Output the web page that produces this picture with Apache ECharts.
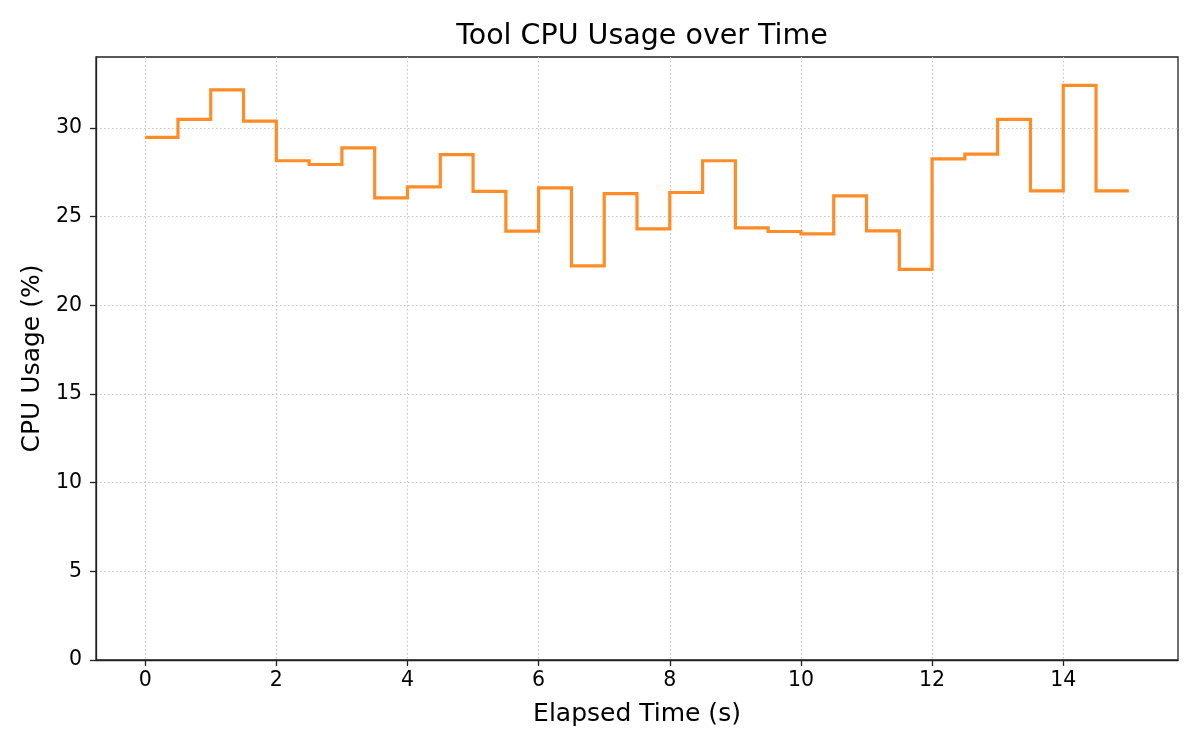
<!DOCTYPE html>
<html>
<head>
<meta charset="utf-8">
<script src="https://cdn.jsdelivr.net/npm/echarts@6/dist/echarts.min.js"></script>
<style>
html,body{margin:0;padding:0;background:#fff;}
#chart{width:1200px;height:750px;}
</style>
</head>
<body>
<div id="chart"></div>
<script>
var times = [0,0.5,1,1.5,2,2.5,3,3.5,4,4.5,5,5.5,6,6.5,7,7.5,8,8.5,9,9.5,10,10.5,11,11.5,12,12.5,13,13.5,14,14.5,15];
var cpuUsage = [29.47,30.48,32.15,30.38,28.15,27.94,28.88,26.06,26.68,28.5,26.42,24.18,26.62,22.22,26.3,24.31,26.36,28.15,24.37,24.16,24.03,26.17,24.2,22.03,28.26,28.52,30.48,26.45,32.4,26.45,26.45];
var xTicks = [0,2,4,6,8,10,12,14];
var yTicks = [0,5,10,15,20,25,30];

var seriesData = times.map(function(t, i){ return [t, cpuUsage[i]]; });
var font = 'DejaVu Sans';
var chart = echarts.init(document.getElementById('chart'), null, {renderer:'canvas'});
chart.setOption({
  animation: false,
  backgroundColor: '#ffffff',
  title: {
    text: 'Tool CPU Usage over Time',
    left: 637,
    top: 17,
    textAlign: 'center',
    textStyle: {fontFamily: font, fontSize: 28.5, fontWeight: 'normal', color: '#000'}
  },
  grid: {
    left: 96, right: 22, top: 57, bottom: 90,
    show: true, borderColor: '#222', borderWidth: 1.3, backgroundColor: 'transparent'
  },
  xAxis: {
    type: 'value',
    min: -0.75, max: 15.75,
    name: 'Elapsed Time (s)',
    nameLocation: 'middle',
    nameGap: 42,
    nameTextStyle: {fontFamily: font, fontSize: 25, color: '#000'},
    axisLine: {show: true, onZero: false, lineStyle: {color: '#222', width: 1.3}},
    axisTick: {show: true, length: 6, inside: false, customValues: xTicks, lineStyle: {color: '#222', width: 1.3}},
    axisLabel: {fontFamily: font, fontSize: 20.5, color: '#000', margin: 10, customValues: xTicks},
    splitLine: {show: true, lineStyle: {color: '#c4c4c4', width: 1.1, type: [1.5, 2.5]}}
  },
  yAxis: {
    type: 'value',
    min: 0, max: 34,
    name: 'CPU Usage (%)',
    nameLocation: 'middle',
    nameGap: 46,
    nameTextStyle: {fontFamily: font, fontSize: 25, color: '#000'},
    axisLine: {show: true, onZero: false, lineStyle: {color: '#222', width: 1.3}},
    axisTick: {show: true, length: 6, inside: false, customValues: yTicks, lineStyle: {color: '#222', width: 1.3}},
    axisLabel: {fontFamily: font, fontSize: 20.5, color: '#000', margin: 14, customValues: yTicks},
    splitLine: {show: true, lineStyle: {color: '#c4c4c4', width: 1.1, type: [1.5, 2.5]}}
  },
  series: [{
    type: 'line',
    step: 'end',
    data: seriesData,
    showSymbol: false,
    symbol: 'none',
    lineStyle: {color: '#ff8c26', width: 3.2, join: 'miter'},
    itemStyle: {color: '#ff8c26'}
  }]
});
</script>
</body>
</html>
